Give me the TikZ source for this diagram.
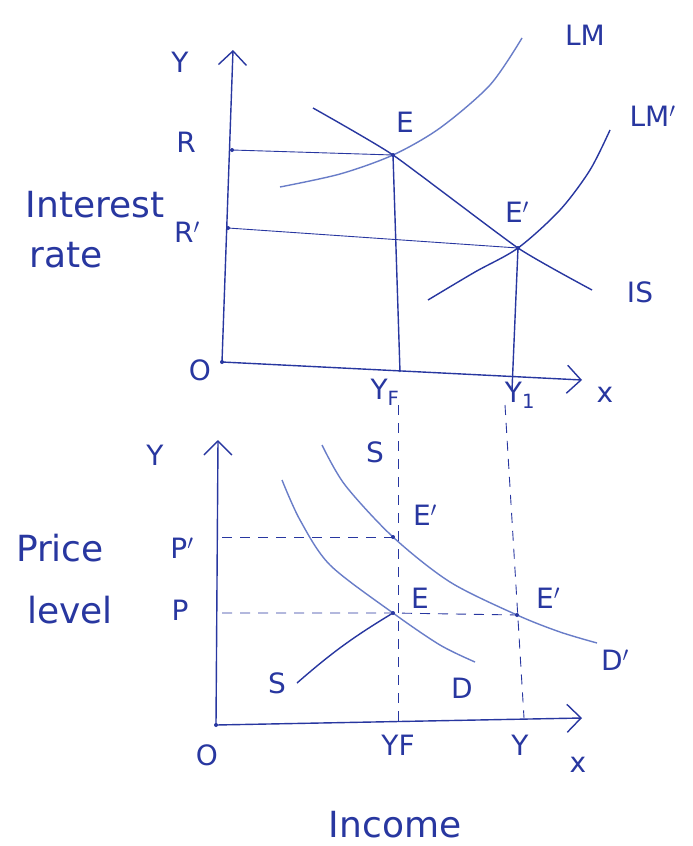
\documentclass[tikz,border=0pt]{standalone}
\usepackage{fontspec}
\setmainfont{DejaVu Sans}
\usetikzlibrary{arrows.meta}
\definecolor{pen}{RGB}{40,55,160}
\definecolor{lightpen}{RGB}{105,125,200}
\tikzset{
  axis/.style={pen, line width=1.4pt, -{Straight Barb[length=14pt,width=28pt,line width=1.4pt]}},
  curve/.style={pen, line width=1.4pt},
  lightcurve/.style={lightpen, line width=1.4pt},
  guide/.style={pen, line width=0.9pt},
  dashguide/.style={pen, line width=0.9pt, dash pattern=on 10pt off 8pt},
  lbl/.style={pen, font=\fontsize{28}{30}\selectfont},
  biglbl/.style={pen, font=\fontsize{36}{38}\selectfont},
  dot/.style={circle, fill=pen, inner sep=0pt, minimum size=4pt}
}
\begin{document}
\begin{tikzpicture}[x=1pt,y=-1pt]
\useasboundingbox[fill=white] (0,0) rectangle (693,846);
% upper panel: IS and LM
\coordinate (O1) at (222,362);
\coordinate (E) at (393,155);
\coordinate (E1) at (518,248);
\coordinate (R) at (232,150);
\coordinate (R1) at (228,228);
\coordinate (YF) at (400,372);
\coordinate (Y1) at (512,390);
\draw[axis] (O1) -- (233,50);
\draw[axis] (O1) -- (582,380);
\draw[guide] (R) -- (E);
\draw[guide] (R1) -- (E1);
\draw[curve] (E) -- (YF);
\draw[curve] (E1) -- (Y1);
\draw[lightcurve] plot[smooth] coordinates {(280,187) (340,174) (E) (440,128) (490,85) (522,38)};
\draw[curve] plot[smooth] coordinates {(428,300) (475,272) (E1) (560,210) (590,170) (610,130)};
\draw[curve] plot[smooth, tension=0.3] coordinates {(313,108) (E) (E1) (592,290)};
\node[dot] (dE) at (E) {};
\node[dot] (dE1) at (E1) {};
\node[dot] (dR) at (R) {};
\node[dot] (dR1) at (R1) {};
\node[dot] (dO1) at (O1) {};
\node[lbl] (tY) at (180,62) {Y};
\node[lbl] (tR) at (186,142) {R};
\node[lbl] (tR1) at (187,232) {R$'$};
\node[lbl] (tO1) at (200,370) {O};
\node[biglbl] (tInt) at (95,205) {Interest};
\node[biglbl] (tRate) at (66,255) {rate};
\node[lbl] (tE) at (405,122) {E};
\node[lbl] (tE1) at (517,212) {E$'$};
\node[lbl] (tLM) at (585,35) {LM};
\node[lbl, anchor=west] (tLM1) at (626,116) {LM$'$};
\node[lbl] (tIS) at (640,292) {IS};
\node[lbl] (tx1) at (605,395) {x};
\node[lbl] (tYF) at (385,392) {Y\textsubscript{F}};
\node[lbl] (tY1) at (520,395) {Y\textsubscript{1}};
% dashed links between panels
\draw[dashguide] (398,405) -- (398,722);
\draw[dashguide] (505,405) -- (524,718);
% lower panel: supply and demand
\coordinate (O2) at (216,725);
\coordinate (Eb) at (393,613);
\coordinate (Eu) at (393,537);
\coordinate (Er) at (517,615);
\coordinate (P) at (222,613);
\coordinate (P1) at (222,537);
\draw[axis] (O2) -- (218,440);
\draw[axis] (O2) -- (582,718);
\draw[dashguide] (P1) -- (Eu);
\draw[dashguide] (P) -- (Eb) -- (Er);
\draw[curve] (297,683) to[bend left=5] (Eb);
\draw[lightcurve] plot[smooth] coordinates {(282,480) (300,520) (330,565) (Eb) (440,645) (475,662)};
\draw[lightcurve] plot[smooth] coordinates {(322,445) (345,485) (Eu) (450,582) (Er) (560,632) (597,643)};
\node[dot] (dEb) at (Eb) {};
\node[dot] (dEu) at (Eu) {};
\node[dot] (dEr) at (Er) {};
\node[dot] (dO2) at (O2) {};
\node[lbl] (tY2) at (155,455) {Y};
\node[lbl] (tS1) at (375,452) {S};
\node[lbl] (tEu) at (425,515) {E$'$};
\node[biglbl] (tPrice) at (60,548) {Price};
\node[lbl] (tP1) at (182,548) {P$'$};
\node[biglbl] (tLevel) at (70,610) {level};
\node[lbl] (tP) at (180,610) {P};
\node[lbl] (tEb) at (420,598) {E};
\node[lbl] (tEr) at (548,598) {E$'$};
\node[lbl] (tD1) at (615,660) {D$'$};
\node[lbl] (tS2) at (277,683) {S};
\node[lbl] (tD) at (462,688) {D};
\node[lbl] (tO2) at (207,755) {O};
\node[lbl] (tYF2) at (398,745) {YF};
\node[lbl] (tY2b) at (520,745) {Y};
\node[lbl] (tx2) at (578,765) {x};
\node[biglbl] (tInc) at (395,825) {Income};
\end{tikzpicture}
\end{document}
